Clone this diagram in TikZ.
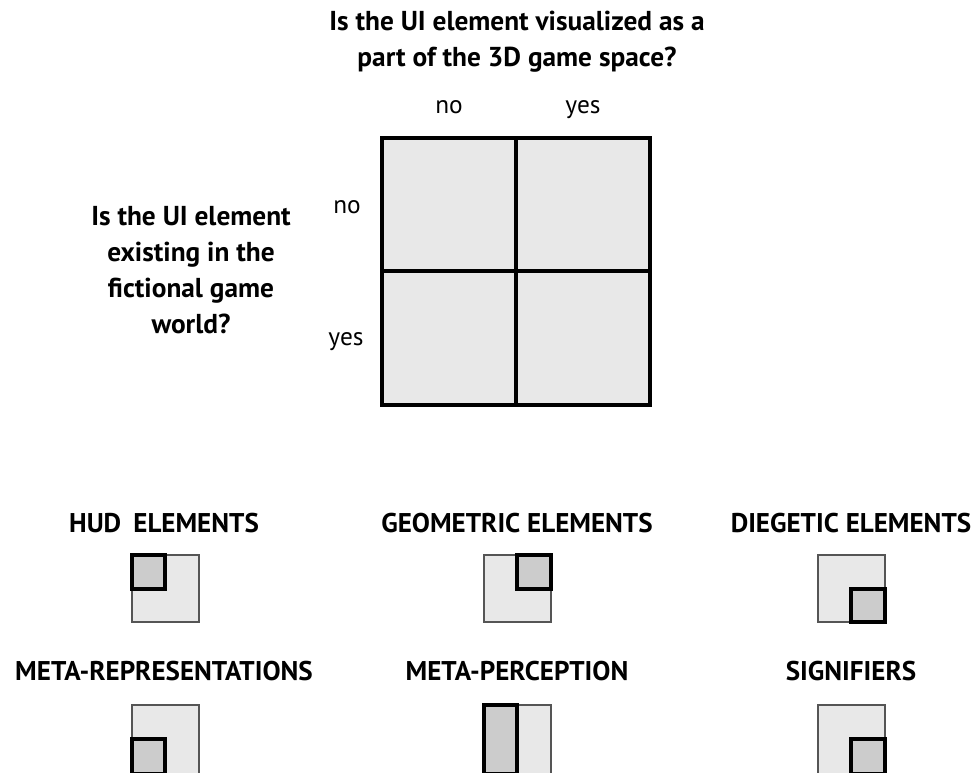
\documentclass[tikz,border=0pt]{standalone}
\usepackage{fontspec}
\setmainfont{PT Sans}
\definecolor{cellgray}{HTML}{E8E8E8}
\definecolor{markgray}{HTML}{CCCCCC}
\definecolor{edgegray}{HTML}{555555}
\begin{document}
\begin{tikzpicture}[x=0.75pt,y=-0.75pt,
  qtext/.style={font=\bfseries\fontsize{20.5}{24}\selectfont, anchor=base, inner sep=0pt},
  ans/.style={font=\fontsize{19}{22}\selectfont, anchor=base, inner sep=0pt},
  lab/.style={font=\bfseries\fontsize{20.3}{24}\selectfont, anchor=base, inner sep=0pt},
  grid/.style={draw=black, line width=2.5pt, fill=cellgray},
  outerbox/.style={draw=edgegray, line width=1.3pt, fill=cellgray},
  innerbox/.style={draw=black, line width=3.4pt, fill=markgray}]
\useasboundingbox (0,0) rectangle (975,772);
\clip (0,0) rectangle (975,772);
% titles
\node[qtext] (t1) at (517,30) {Is the UI element visualized as a};
\node[qtext] (t2) at (517,66) {part of the 3D game space?};
\node[ans] (cno) at (449,113) {no};
\node[ans] (cyes) at (583,113) {yes};
\node[qtext] (q1) at (191,225) {Is the UI element};
\node[qtext] (q2) at (191,261) {existing in the};
\node[qtext] (q3) at (191,297) {fictional game};
\node[qtext] (q4) at (191,333) {world?};
\node[ans] (rno) at (347,213) {no};
\node[ans] (ryes) at (346,345) {yes};
% grid
\draw[grid] (382,138) rectangle (650,405);
\draw[line width=2.5pt] (516,138) -- (516,405);
\draw[line width=2.5pt] (382,271) -- (650,271);
% labels
\node[lab] (l1) at (164,532) {HUD\hspace{4pt} ELEMENTS};
\node[lab] (l2) at (517,532) {GEOMETRIC ELEMENTS};
\node[lab] (l3) at (851,532) {DIEGETIC ELEMENTS};
\node[lab] (l4) at (164,680) {META-REPRESENTATIONS};
\node[lab] (l5) at (517,680) {META-PERCEPTION};
\node[lab] (l6) at (851,680) {SIGNIFIERS};
% icons row 1
\draw[outerbox] (132,555) rectangle (199,622);
\draw[innerbox] (132,555) rectangle (165,589);
\draw[outerbox] (484,555) rectangle (551,622);
\draw[innerbox] (517,555) rectangle (551,589);
\draw[outerbox] (818,555) rectangle (885,622);
\draw[innerbox] (851,589) rectangle (885,622);
% icons row 2
\draw[outerbox] (132,705) rectangle (199,774);
\draw[innerbox] (132,739) rectangle (165,774);
\draw[outerbox] (484,705) rectangle (551,774);
\draw[innerbox] (484,705) rectangle (517,774);
\draw[outerbox] (818,705) rectangle (885,774);
\draw[innerbox] (851,739) rectangle (885,774);
\end{tikzpicture}
\end{document}
